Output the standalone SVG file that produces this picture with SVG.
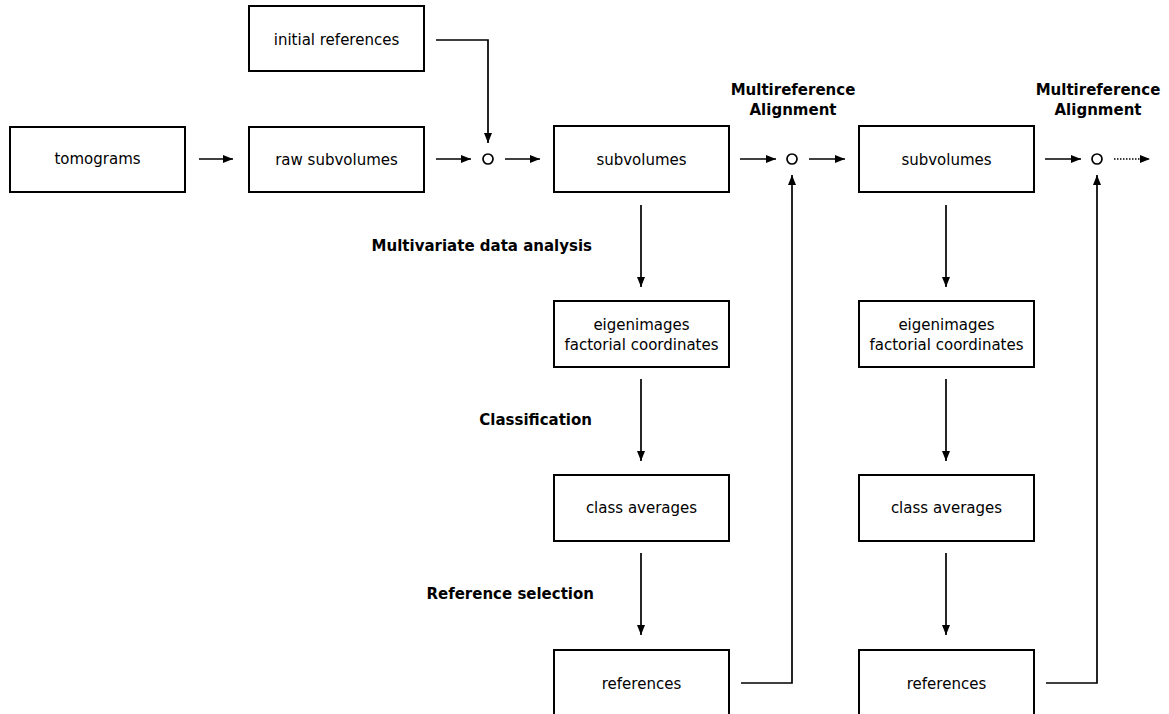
<svg xmlns="http://www.w3.org/2000/svg" width="1169" height="714" viewBox="0 0 1169 714">
<style>
.box{fill:#fff;stroke:#000;stroke-width:2}
.t{font-family:"DejaVu Sans",sans-serif;font-size:15px;fill:#000;text-anchor:middle}
.b{font-family:"DejaVu Sans",sans-serif;font-size:15px;font-weight:bold;fill:#000}
.c{fill:none;stroke:#000;stroke-width:1.7}
.dot{fill:#fff;stroke:#000;stroke-width:1.7}
</style>
<defs>
<marker id="ah" markerWidth="10" markerHeight="8" refX="10" refY="4" orient="auto" markerUnits="userSpaceOnUse">
<path d="M0,0 L10,4 L0,8 Z" fill="#000"/>
</marker>
</defs>
<rect width="1169" height="714" fill="#fff"/>
<g id="n-tomograms"><rect class="box" x="10" y="127" width="175" height="65"/><text class="t" x="97.5" y="164">tomograms</text></g>
<g id="n-initial"><rect class="box" x="249" y="6" width="175" height="65"/><text class="t" x="336.5" y="45">initial references</text></g>
<g id="n-raw"><rect class="box" x="249" y="127" width="175" height="65"/><text class="t" x="336.5" y="165">raw subvolumes</text></g>
<g id="n-sub1"><rect class="box" x="554" y="126" width="175" height="66"/><text class="t" x="641.5" y="165">subvolumes</text></g>
<g id="n-eig1"><rect class="box" x="554" y="301" width="175" height="66"/><text class="t" x="641.5" y="330">eigenimages</text><text class="t" x="641.5" y="350">factorial coordinates</text></g>
<g id="n-cls1"><rect class="box" x="554" y="475" width="175" height="66"/><text class="t" x="641.5" y="513">class averages</text></g>
<g id="n-ref1"><rect class="box" x="554" y="650" width="175" height="66"/><text class="t" x="641.5" y="689">references</text></g>
<g id="n-sub2"><rect class="box" x="859" y="126" width="175" height="66"/><text class="t" x="946.5" y="165">subvolumes</text></g>
<g id="n-eig2"><rect class="box" x="859" y="301" width="175" height="66"/><text class="t" x="946.5" y="330">eigenimages</text><text class="t" x="946.5" y="350">factorial coordinates</text></g>
<g id="n-cls2"><rect class="box" x="859" y="475" width="175" height="66"/><text class="t" x="946.5" y="513">class averages</text></g>
<g id="n-ref2"><rect class="box" x="859" y="650" width="175" height="66"/><text class="t" x="946.5" y="689">references</text></g>
<g id="j1"><circle class="dot" cx="488" cy="159" r="5"/></g>
<g id="j2"><circle class="dot" cx="792" cy="159" r="5"/></g>
<g id="j3"><circle class="dot" cx="1097" cy="159" r="5"/></g>
<g id="labels">
<text class="b" x="793" y="95" text-anchor="middle">Multireference</text>
<text class="b" x="793" y="115" text-anchor="middle">Alignment</text>
<text class="b" x="1098" y="95" text-anchor="middle">Multireference</text>
<text class="b" x="1098" y="115" text-anchor="middle">Alignment</text>
<text class="b" x="592" y="251" text-anchor="end">Multivariate data analysis</text>
<text class="b" x="592" y="425" text-anchor="end">Classification</text>
<text class="b" x="594" y="599" text-anchor="end">Reference selection</text>
</g>
<g id="connectors">
<path class="c" d="M199,159 H233" marker-end="url(#ah)"/>
<path class="c" d="M436,159 H471" marker-end="url(#ah)"/>
<path class="c" d="M436,40 H488 V143" marker-end="url(#ah)"/>
<path class="c" d="M505,159 H540" marker-end="url(#ah)"/>
<path class="c" d="M740,159 H776" marker-end="url(#ah)"/>
<path class="c" d="M809,159 H845" marker-end="url(#ah)"/>
<path class="c" d="M1045,159 H1081" marker-end="url(#ah)"/>
<path class="c" d="M1114,159 H1150" stroke-dasharray="1.5,1.5" marker-end="url(#ah)"/>
<path class="c" d="M641,205 V287" marker-end="url(#ah)"/>
<path class="c" d="M641,379 V461" marker-end="url(#ah)"/>
<path class="c" d="M641,553 V635" marker-end="url(#ah)"/>
<path class="c" d="M946,205 V287" marker-end="url(#ah)"/>
<path class="c" d="M946,379 V461" marker-end="url(#ah)"/>
<path class="c" d="M946,553 V635" marker-end="url(#ah)"/>
<path class="c" d="M741,683 H792 V175" marker-end="url(#ah)"/>
<path class="c" d="M1046,683 H1097 V175" marker-end="url(#ah)"/>
</g>
</svg>
